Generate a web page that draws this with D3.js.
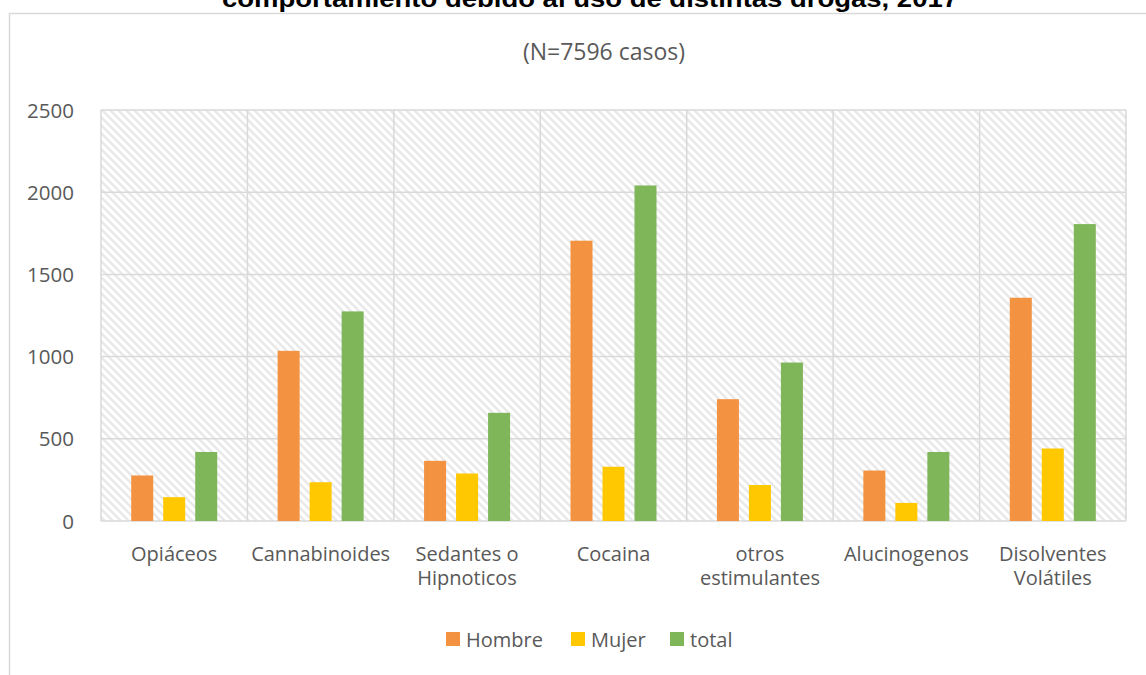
<!DOCTYPE html>
<html>
<head>
<meta charset="utf-8">
<script src="https://cdn.jsdelivr.net/npm/d3@7"></script>
<style>
  html, body { margin: 0; padding: 0; background: #fff; overflow: hidden; }
  text { font-family: "Open Sans", sans-serif; fill: #595959; }
</style>
</head>
<body>
<div id="chart"></div>
<script>
const width = 1146;
const height = 675;

const categories = [["Opiáceos"], ["Cannabinoides"], ["Sedantes o", "Hipnoticos"], ["Cocaina"],
    ["otros", "estimulantes"], ["Alucinogenos"], ["Disolventes", "Volátiles"]];
const series = ["Hombre", "Mujer", "total"];
const hombre = [277, 1035, 366, 1705, 741, 307, 1358];
const mujer = [145, 236, 289, 330, 219, 110, 441];
const total = [420, 1275, 658, 2041, 964, 420, 1806];
const yTicks = [0, 500, 1000, 1500, 2000, 2500];
const colors = ["#f39240", "#ffc800", "#7fb65a"];

const values = [hombre, mujer, total];
const keys = categories.map(c => c.join(" "));

const margin = { top: 110, right: 20, bottom: 154, left: 101 };

let svg = d3.select("#chart").append("svg")
    .attr("width", width)
    .attr("height", height);

// hatch fill of the plot area
let defs = svg.append("defs");
let pattern = defs.append("pattern")
    .attr("id", "hatch")
    .attr("patternUnits", "userSpaceOnUse")
    .attr("width", 8)
    .attr("height", 8);
pattern.append("path")
    .attr("d", "M-2,-2 L10,10 M-2,6 L2,10 M6,-2 L10,2")
    .attr("stroke", "#e9e9e9")
    .attr("stroke-width", 2.6);

// outer frame
svg.append("rect")
    .attr("x", 9.5).attr("y", 13.5)
    .attr("width", width + 10).attr("height", height + 10)
    .attr("fill", "#fff")
    .attr("stroke", "#d9d9d9")
    .attr("stroke-width", 1.5);

svg.append("text")
    .attr("x", 590).attr("y", 7)
    .attr("text-anchor", "middle")
    .attr("textLength", 736)
    .attr("lengthAdjust", "spacingAndGlyphs")
    .style("font-family", "'Liberation Sans', Arial, sans-serif")
    .style("font-weight", "bold")
    .style("font-size", "23px")
    .style("fill", "#000")
    .text("comportamiento debido al uso de distintas drogas, 2017");

svg.append("text")
    .attr("x", 604).attr("y", 60)
    .attr("text-anchor", "middle")
    .style("font-size", "23px")
    .text("(N=7596 casos)");

let x = d3.scaleBand()
    .domain(keys)
    .range([margin.left, width - margin.right])
    .padding(0);

let y = d3.scaleLinear()
    .domain([0, 2500])
    .range([height - margin.bottom, margin.top]);

let xs = d3.scaleBand()
    .domain(series)
    .range([0, x.bandwidth()])
    .paddingInner(0.3125)
    .paddingOuter(0.944);

let plot = svg.append("g");

plot.append("rect")
    .attr("x", x.range()[0]).attr("y", y(2500))
    .attr("width", x.range()[1] - x.range()[0])
    .attr("height", y(0) - y(2500))
    .attr("fill", "url(#hatch)");

// gridlines
plot.append("g")
    .selectAll("line")
    .data(yTicks)
    .enter().append("line")
    .attr("x1", x.range()[0]).attr("x2", x.range()[1])
    .attr("y1", d => y(d)).attr("y2", d => y(d))
    .attr("stroke", "#d9d9d9")
    .attr("stroke-width", 1.5);

plot.append("g")
    .selectAll("line")
    .data(keys.map(k => x(k)).concat([x.range()[1]]))
    .enter().append("line")
    .attr("x1", d => d).attr("x2", d => d)
    .attr("y1", y(0)).attr("y2", y(2500))
    .attr("stroke", "#d9d9d9")
    .attr("stroke-width", 1.5);

// bars
let groups = plot.append("g")
    .selectAll("g")
    .data(keys)
    .enter().append("g")
    .attr("transform", d => `translate(${x(d)},0)`);

groups.selectAll("rect")
    .data((k, i) => series.map((s, j) => ({ s: s, v: values[j][i], c: colors[j] })))
    .enter().append("rect")
    .attr("x", d => xs(d.s))
    .attr("width", xs.bandwidth())
    .attr("y", d => y(d.v))
    .attr("height", d => y(0) - y(d.v))
    .attr("fill", d => d.c);

// y axis
let yAxis = svg.append("g")
    .attr("transform", `translate(${margin.left - 24},0)`)
    .call(d3.axisLeft(y).tickValues(yTicks).tickSize(0).tickFormat(d3.format("d")));
yAxis.select(".domain").remove();
yAxis.selectAll("text")
    .attr("dy", "0.35em")
    .style("font-size", "20.5px")
    .style("font-family", "'Open Sans', sans-serif")
    .attr("fill", "#595959");

// x labels, one text per line
let xl = svg.append("g")
    .selectAll("g")
    .data(categories)
    .enter().append("g")
    .attr("transform", (d, i) => `translate(${x(keys[i]) + x.bandwidth() / 2},0)`);
xl.selectAll("text")
    .data(d => d)
    .enter().append("text")
    .attr("y", (d, i) => 561 + i * 24)
    .attr("text-anchor", "middle")
    .style("font-size", "20px")
    .text(d => d);

// legend
let legendX = [446, 571, 670];
let legend = svg.append("g")
    .selectAll("g")
    .data(series)
    .enter().append("g")
    .attr("transform", (d, i) => `translate(${legendX[i]},632)`);
legend.append("rect")
    .attr("width", 14).attr("height", 14)
    .attr("fill", (d, i) => colors[i]);
legend.append("text")
    .attr("x", 20).attr("y", 15)
    .style("font-size", "20px")
    .text(d => d);
</script>
</body>
</html>
